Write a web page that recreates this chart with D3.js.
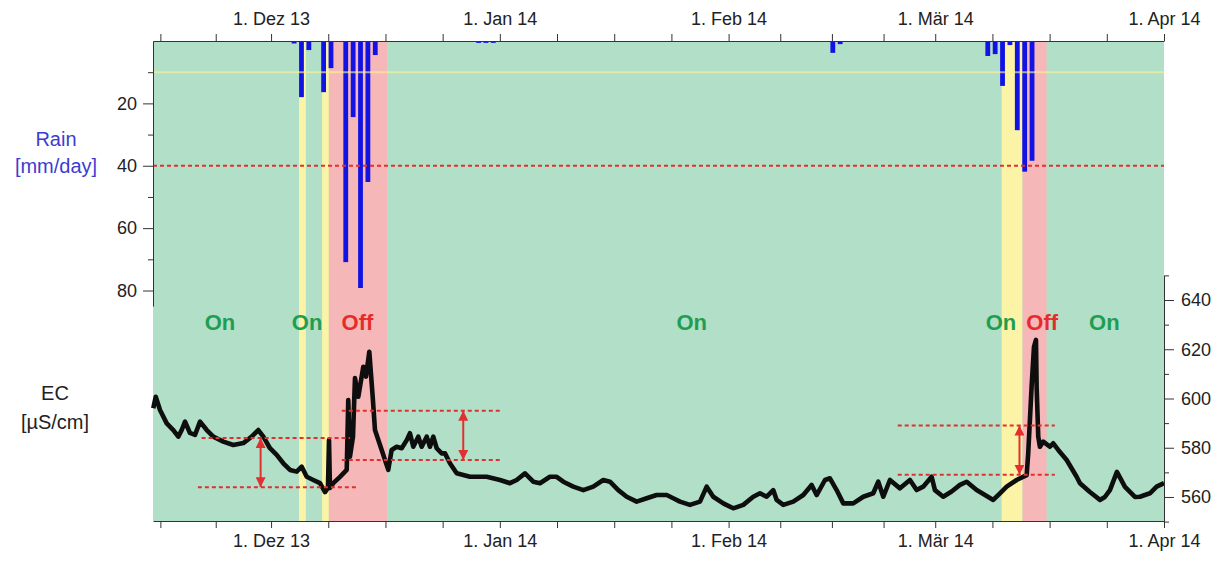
<!DOCTYPE html>
<html>
<head>
<meta charset="utf-8">
<script src="https://cdn.jsdelivr.net/npm/d3@7"></script>
<style>
  html, body { margin: 0; padding: 0; background: #fff; }
  svg { display: block; font-family: "Liberation Sans", Arial, sans-serif; }
</style>
</head>
<body>
<svg id="chart" width="1231" height="562"></svg>
<script>
// Daily rainfall and spring-water EC, 15 Nov 2013 – 1 Apr 2014

// ---- rainfall (mm/day) ----
const rainDates = ["2013-12-04", "2013-12-05", "2013-12-06", "2013-12-08", "2013-12-09",
  "2013-12-11", "2013-12-12", "2013-12-13", "2013-12-14", "2013-12-15",
  "2013-12-29", "2013-12-30", "2013-12-31", "2014-02-15", "2014-02-16",
  "2014-03-08", "2014-03-09", "2014-03-10", "2014-03-11", "2014-03-12", "2014-03-13", "2014-03-14"];
const rainMm = [0.8, 18.0, 2.9, 16.4, 8.7,
  70.9, 24.4, 79.2, 45.2, 4.5,
  0.6, 0.6, 0.6, 3.8, 1.0,
  4.8, 4.2, 14.4, 1.3, 28.6, 41.9, 38.4];

// ---- EC (µS/cm); time given in days since 15 Nov 2013 ----
const ecDay = [0.04, 0.37, 0.95, 1.86, 2.75, 3.43, 3.89, 4.34, 5.01, 5.69, 6.37, 7.28, 8.17, 9.53,
  10.88, 12.24, 13.37, 14.27, 14.95, 15.85, 16.76, 17.66, 18.56, 19.47, 20.15, 20.83, 21.72, 22.63,
  23.31, 23.71, 23.85, 23.98, 24.43, 25.34, 26.25, 26.46, 26.69, 27.1, 27.37, 27.82, 28.5, 28.86,
  29.31, 29.77, 30.08, 30.99, 31.88, 32.34, 33.02, 33.7, 34.38, 34.82, 35.27, 35.95, 36.41, 37.09,
  37.53, 37.98, 38.44, 39.12, 39.57, 40.24, 41.15, 42.95, 45.22, 47.02, 48.37, 49.28, 50.41, 51.53,
  52.44, 53.79, 54.7, 55.6, 56.95, 58.31, 59.66, 61.02, 61.92, 63.05, 64.19, 65.54, 66.9, 68.25,
  69.61, 70.5, 71.41, 72.76, 74.12, 75.03, 75.92, 77.28, 78.63, 79.99, 81.34, 82.25, 83.16, 84.05,
  84.51, 85.41, 86.76, 88.12, 89.25, 89.93, 91.06, 91.73, 92.64, 93.54, 94.89, 96.25, 97.6, 98.28,
  98.96, 99.86, 101.22, 102.57, 103.48, 104.37, 105.51, 105.96, 107.08, 108.22, 109.35, 110.26,
  111.61, 112.74, 113.86, 114.77, 115.68, 117.03, 118.39, 118.6, 119.06, 119.38, 119.65, 119.74,
  119.96, 120.19, 120.64, 121.54, 121.99, 122.67, 123.81, 125.16, 125.61, 126.96, 128.32, 128.99,
  129.67, 130.62, 131.71, 133.06, 133.74, 135.09, 136.0, 137.0];
const ecValue = [596.0, 600.7, 595.3, 589.9, 587.2, 584.5, 587.2, 590.6, 586.0, 585.2, 590.6, 587.2, 584.5, 582.5,
  581.1, 581.9, 584.5, 587.2, 584.5, 579.8, 577.1, 573.7, 571.0, 570.3, 572.3, 568.2, 566.9, 565.6,
  562.0, 563.7, 583.1, 563.7, 565.6, 568.2, 571.0, 599.4, 576.4, 584.5, 608.3, 600.7, 612.9, 608.9,
  619.0, 600.7, 587.2, 579.1, 571.0, 579.1, 580.4, 579.8, 583.1, 585.9, 580.4, 584.5, 580.4, 584.5,
  580.4, 584.5, 579.8, 577.7, 577.7, 573.7, 569.6, 568.2, 568.2, 566.9, 565.6, 566.9, 569.6, 566.2,
  565.6, 568.2, 568.2, 566.2, 564.2, 562.8, 564.2, 566.9, 566.2, 562.8, 560.1, 558.1, 559.5, 560.8,
  560.8, 559.5, 558.1, 556.8, 558.1, 564.2, 560.1, 557.4, 555.4, 556.8, 560.1, 561.5, 560.1, 562.8,
  558.8, 556.8, 558.1, 560.8, 564.9, 560.8, 566.9, 567.6, 562.8, 557.4, 557.4, 560.1, 561.5, 566.2,
  560.1, 566.9, 563.5, 566.9, 562.8, 564.2, 568.2, 562.8, 560.1, 562.2, 564.9, 566.2,
  562.8, 560.8, 558.8, 561.5, 564.2, 566.9, 568.9, 577.7, 604.8, 621.0, 623.8, 604.8,
  584.5, 580.4, 582.5, 580.4, 581.8, 579.1, 575.0, 568.2, 565.6, 562.0, 558.8, 560.0,
  562.8, 570.2, 564.1, 560.0, 560.1, 561.5, 564.2, 565.6];

// ---- pumping periods (shaded bands) ----
const bandStart = ["2013-12-04T19:00", "2013-12-07T22:00", "2013-12-08T20:00", "2014-03-10T00:00", "2014-03-12T20:00"];
const bandEnd   = ["2013-12-05T17:00", "2013-12-08T20:00", "2013-12-16T17:00", "2014-03-12T20:00", "2014-03-16T02:00"];
const bandKind  = ["transition", "transition", "off", "transition", "off"];

// ---- on/off annotations ----
const stateText = ["On", "On", "Off", "On", "On", "Off", "On"];
const stateAt = ["2013-11-24T02:00", "2013-12-05T21:00", "2013-12-12T17:00", "2014-01-27T00:00",
  "2014-03-09T22:00", "2014-03-15T12:00", "2014-03-23T22:00"];

// ---- EC reference levels and shifts ----
const levelStart = ["2013-11-21T14:00", "2013-11-21T02:00", "2013-12-10T14:00", "2013-12-10T14:00", "2014-02-23T22:00", "2014-02-23T22:00"];
const levelEnd   = ["2013-12-11T17:00", "2013-12-12T14:00", "2014-01-01T05:00", "2014-01-01T05:00", "2014-03-17T05:00", "2014-03-17T05:00"];
const levelValue = [584, 564, 595, 575, 589, 569];
const shiftAt   = ["2013-11-29T14:00", "2013-12-27T01:00", "2014-03-12T10:00"];
const shiftFrom = [584, 595, 589];
const shiftTo   = [564, 575, 569];

// ---- axis labels ----
const monthTickDates = ["2013-12-01", "2014-01-01", "2014-02-01", "2014-03-01", "2014-04-01"];
const monthTickLabels = ["1. Dez 13", "1. Jan 14", "1. Feb 14", "1. Mär 14", "1. Apr 14"];
const rainTicks = [20, 40, 60, 80];
const rainMinorTicks = [10, 30, 50, 70];
const ecTicks = [560, 580, 600, 620, 640];
const ecMinorTicks = [550, 570, 590, 610, 630, 650];
const rainThreshold = 40;
const rainGuide = 10;

// ---------------------------------------------------------------
const parseDay = d3.timeParse("%Y-%m-%d");
const parseTime = d3.timeParse("%Y-%m-%dT%H:%M");
const DAY = 864e5;
const t0 = new Date(2013, 10, 15);
const t1 = new Date(2014, 3, 1);

const plotLeft = 153, plotRight = 1164, plotTop = 41, plotBottom = 521;

const x = d3.scaleTime().domain([t0, t1]).range([plotLeft, plotRight]);
const yRain = d3.scaleLinear().domain([0, 80]).range([plotTop, 290.5]);
const yRainAxis = d3.scaleLinear().domain([0, 85]).range([plotTop, yRain(85)]);
const yEC = d3.scaleLinear().domain([550, 650]).range([plotBottom + 0.6, 275.4]);

const svg = d3.select("#chart");

const colors = {
  on: "#b1dfc7",
  transition: "#fbf4a6",
  off: "#f5b7b8",
  rain: "#1212e2",
  red: "#e23030",
  onText: "#1f9e52",
  offText: "#e62b2b",
  axis: "#333"
};

// background
svg.append("rect").attr("x", plotLeft).attr("y", plotTop)
  .attr("width", plotRight - plotLeft).attr("height", plotBottom - plotTop)
  .attr("fill", colors.on);

// pumping-state bands
svg.append("g").selectAll("rect")
  .data(bandStart.map((s, i) => ({ s: parseTime(s), e: parseTime(bandEnd[i]), k: bandKind[i] })))
  .join("rect")
  .attr("x", d => x(d.s)).attr("y", plotTop)
  .attr("width", d => x(d.e) - x(d.s)).attr("height", plotBottom - plotTop)
  .attr("fill", d => colors[d.k]);

// rain bars hanging from the top axis
const barW = (x(new Date(+t0 + DAY)) - x(t0)) * 0.65;
svg.append("g").selectAll("rect")
  .data(rainDates.map((d, i) => ({ t: parseDay(d), v: rainMm[i] })))
  .join("rect")
  .attr("x", d => x(new Date(+d.t + 0.12 * DAY)) - barW / 2)
  .attr("y", yRain(0))
  .attr("width", barW)
  .attr("height", d => yRain(d.v) - yRain(0))
  .attr("fill", colors.rain);

// faint guide at 10 mm
svg.append("line")
  .attr("x1", plotLeft).attr("x2", plotRight)
  .attr("y1", yRain(rainGuide)).attr("y2", yRain(rainGuide))
  .attr("stroke", "rgba(250,240,150,0.65)").attr("stroke-width", 2);

// threshold at 40 mm/day
svg.append("line")
  .attr("x1", plotLeft).attr("x2", plotRight)
  .attr("y1", yRain(rainThreshold)).attr("y2", yRain(rainThreshold))
  .attr("stroke", colors.red).attr("stroke-width", 2).attr("stroke-dasharray", "4,3");

// EC series
const ecData = ecDay.map((d, i) => ({ t: new Date(+t0 + d * DAY), v: ecValue[i] }));
svg.append("path")
  .datum(ecData)
  .attr("fill", "none")
  .attr("stroke", "#0e0e0e")
  .attr("stroke-width", 4.6)
  .attr("stroke-linejoin", "round")
  .attr("d", d3.line().x(d => x(d.t)).y(d => yEC(d.v)));

// reference levels
svg.append("g").selectAll("line")
  .data(levelStart.map((s, i) => ({ s: parseTime(s), e: parseTime(levelEnd[i]), v: levelValue[i] })))
  .join("line")
  .attr("x1", d => x(d.s)).attr("x2", d => x(d.e))
  .attr("y1", d => yEC(d.v)).attr("y2", d => yEC(d.v))
  .attr("stroke", colors.red).attr("stroke-width", 2).attr("stroke-dasharray", "4,3");

// double-headed shift arrows
const defs = svg.append("defs");
defs.append("marker")
  .attr("id", "head").attr("viewBox", "0 0 10 10")
  .attr("refX", 10).attr("refY", 5)
  .attr("markerWidth", 10).attr("markerHeight", 10)
  .attr("markerUnits", "userSpaceOnUse")
  .attr("orient", "auto-start-reverse")
  .append("path").attr("d", "M0,0 L10,5 L0,10 z").attr("fill", colors.red);

svg.append("g").selectAll("line")
  .data(shiftAt.map((s, i) => ({ t: parseTime(s), a: shiftFrom[i], b: shiftTo[i] })))
  .join("line")
  .attr("x1", d => x(d.t)).attr("x2", d => x(d.t))
  .attr("y1", d => yEC(d.a)).attr("y2", d => yEC(d.b))
  .attr("stroke", colors.red).attr("stroke-width", 2)
  .attr("marker-start", "url(#head)").attr("marker-end", "url(#head)");

// on/off annotations
svg.append("g").selectAll("text")
  .data(stateText.map((s, i) => ({ s, t: parseTime(stateAt[i]) })))
  .join("text")
  .attr("x", d => x(d.t)).attr("y", 330)
  .attr("text-anchor", "middle")
  .attr("font-size", 22).attr("font-weight", "bold")
  .attr("fill", d => d.s === "On" ? colors.onText : colors.offText)
  .text(d => d.s);

// time axes: quarter-month ticks, labels on the 1st
const tickDates = [];
d3.timeMonth.range(new Date(2013, 10, 1), t1).forEach(m => {
  const len = d3.timeMonth.offset(m, 1) - m;
  for (let k = 0; k < 4; k++) tickDates.push(new Date(+m + len * k / 4));
});
tickDates.push(t1);
const xTicks = tickDates.filter(d => d >= t0 && d <= t1);
const labelByTime = new Map(monthTickDates.map((d, i) => [+parseDay(d), monthTickLabels[i]]));
const fmt = d => labelByTime.get(+d) || "";

function styleAxis(g, size) {
  g.selectAll(".domain").attr("stroke", colors.axis);
  g.selectAll(".tick line").attr("stroke", colors.axis);
  g.selectAll("text").attr("fill", "#222").attr("font-size", size)
    .attr("font-family", "'Liberation Sans', Arial, sans-serif");
}

svg.append("g").attr("transform", `translate(0,${plotTop})`)
  .call(d3.axisTop(x).tickValues(xTicks).tickFormat(fmt).tickSize(7).tickSizeOuter(0).tickPadding(9))
  .call(g => styleAxis(g, 18));

svg.append("g").attr("transform", `translate(0,${plotBottom})`)
  .call(d3.axisBottom(x).tickValues(xTicks).tickFormat(fmt).tickSize(7).tickSizeOuter(0).tickPadding(6))
  .call(g => styleAxis(g, 18));

// rain axis (left, upper part)
svg.append("g").attr("transform", `translate(${plotLeft},0)`)
  .call(d3.axisLeft(yRainAxis).tickValues(rainTicks).tickSize(10).tickSizeOuter(0).tickPadding(6))
  .call(g => styleAxis(g, 18));
svg.append("g").attr("transform", `translate(${plotLeft},0)`)
  .call(d3.axisLeft(yRainAxis).tickValues(rainMinorTicks).tickFormat("").tickSize(5).tickSizeOuter(0))
  .call(g => { g.select(".domain").remove(); styleAxis(g, 18); });

// EC axis (right, lower part)
svg.append("g").attr("transform", `translate(${plotRight},0)`)
  .call(d3.axisRight(yEC).tickValues(ecTicks).tickSize(10).tickSizeOuter(0).tickPadding(7))
  .call(g => styleAxis(g, 18));
svg.append("g").attr("transform", `translate(${plotRight},0)`)
  .call(d3.axisRight(yEC).tickValues(ecMinorTicks).tickFormat("").tickSize(5).tickSizeOuter(0))
  .call(g => { g.select(".domain").remove(); styleAxis(g, 18); });

// axis titles
const titles = svg.append("g").attr("text-anchor", "middle").attr("font-size", 20);
titles.append("text").attr("x", 56).attr("y", 146).attr("fill", "#3c3cd0").text("Rain");
titles.append("text").attr("x", 56).attr("y", 173).attr("fill", "#3c3cd0").text("[mm/day]");
titles.append("text").attr("x", 55).attr("y", 400).attr("fill", "#222").text("EC");
titles.append("text").attr("x", 55).attr("y", 429).attr("fill", "#222").text("[µS/cm]");
</script>
</body>
</html>
